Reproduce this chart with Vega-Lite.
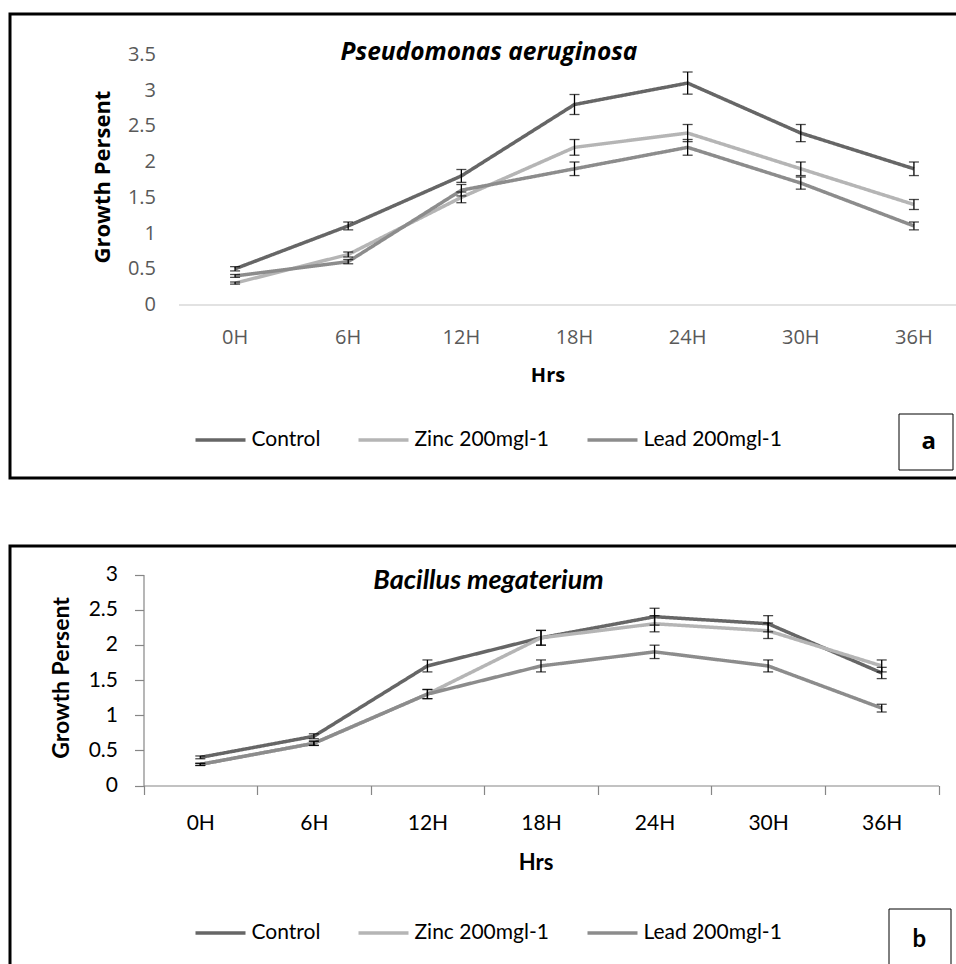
{
  "$schema": "https://vega.github.io/schema/vega-lite/v6.json",
  "background": "white",
  "padding": {"left": 8, "top": 12, "right": 0, "bottom": 0},
  "spacing": 64,
  "config": {"view": {"stroke": "black", "strokeWidth": 3}},
  "datasets": {
    "pa": [
      {"series": "Control", "hrs": "0H", "v": 0.5, "err": 0.03, "panel": "a"},
      {"series": "Control", "hrs": "6H", "v": 1.1, "err": 0.055, "panel": "a"},
      {"series": "Control", "hrs": "12H", "v": 1.8, "err": 0.09, "panel": "a"},
      {"series": "Control", "hrs": "18H", "v": 2.8, "err": 0.14, "panel": "a"},
      {"series": "Control", "hrs": "24H", "v": 3.1, "err": 0.155, "panel": "a"},
      {"series": "Control", "hrs": "30H", "v": 2.4, "err": 0.12, "panel": "a"},
      {"series": "Control", "hrs": "36H", "v": 1.9, "err": 0.095, "panel": "a"},
      {"series": "Zinc 200mgl-1", "hrs": "0H", "v": 0.3, "err": 0.015, "panel": "a"},
      {"series": "Zinc 200mgl-1", "hrs": "6H", "v": 0.7, "err": 0.035, "panel": "a"},
      {"series": "Zinc 200mgl-1", "hrs": "12H", "v": 1.5, "err": 0.075, "panel": "a"},
      {"series": "Zinc 200mgl-1", "hrs": "18H", "v": 2.2, "err": 0.11, "panel": "a"},
      {"series": "Zinc 200mgl-1", "hrs": "24H", "v": 2.4, "err": 0.12, "panel": "a"},
      {"series": "Zinc 200mgl-1", "hrs": "30H", "v": 1.9, "err": 0.095, "panel": "a"},
      {"series": "Zinc 200mgl-1", "hrs": "36H", "v": 1.4, "err": 0.07, "panel": "a"},
      {"series": "Lead 200mgl-1", "hrs": "0H", "v": 0.4, "err": 0.02, "panel": "a"},
      {"series": "Lead 200mgl-1", "hrs": "6H", "v": 0.6, "err": 0.03, "panel": "a"},
      {"series": "Lead 200mgl-1", "hrs": "12H", "v": 1.6, "err": 0.08, "panel": "a"},
      {"series": "Lead 200mgl-1", "hrs": "18H", "v": 1.9, "err": 0.095, "panel": "a"},
      {"series": "Lead 200mgl-1", "hrs": "24H", "v": 2.2, "err": 0.11, "panel": "a"},
      {"series": "Lead 200mgl-1", "hrs": "30H", "v": 1.7, "err": 0.085, "panel": "a"},
      {"series": "Lead 200mgl-1", "hrs": "36H", "v": 1.1, "err": 0.055, "panel": "a"}
    ],
    "pb": [
      {"series": "Control", "hrs": "0H", "v": 0.4, "err": 0.02, "panel": "b"},
      {"series": "Control", "hrs": "6H", "v": 0.7, "err": 0.035, "panel": "b"},
      {"series": "Control", "hrs": "12H", "v": 1.7, "err": 0.085, "panel": "b"},
      {"series": "Control", "hrs": "18H", "v": 2.1, "err": 0.105, "panel": "b"},
      {"series": "Control", "hrs": "24H", "v": 2.4, "err": 0.12, "panel": "b"},
      {"series": "Control", "hrs": "30H", "v": 2.3, "err": 0.115, "panel": "b"},
      {"series": "Control", "hrs": "36H", "v": 1.6, "err": 0.08, "panel": "b"},
      {"series": "Zinc 200mgl-1", "hrs": "0H", "v": 0.3, "err": 0.015, "panel": "b"},
      {"series": "Zinc 200mgl-1", "hrs": "6H", "v": 0.6, "err": 0.03, "panel": "b"},
      {"series": "Zinc 200mgl-1", "hrs": "12H", "v": 1.3, "err": 0.065, "panel": "b"},
      {"series": "Zinc 200mgl-1", "hrs": "18H", "v": 2.1, "err": 0.105, "panel": "b"},
      {"series": "Zinc 200mgl-1", "hrs": "24H", "v": 2.3, "err": 0.115, "panel": "b"},
      {"series": "Zinc 200mgl-1", "hrs": "30H", "v": 2.2, "err": 0.11, "panel": "b"},
      {"series": "Zinc 200mgl-1", "hrs": "36H", "v": 1.7, "err": 0.085, "panel": "b"},
      {"series": "Lead 200mgl-1", "hrs": "0H", "v": 0.3, "err": 0.015, "panel": "b"},
      {"series": "Lead 200mgl-1", "hrs": "6H", "v": 0.6, "err": 0.03, "panel": "b"},
      {"series": "Lead 200mgl-1", "hrs": "12H", "v": 1.3, "err": 0.065, "panel": "b"},
      {"series": "Lead 200mgl-1", "hrs": "18H", "v": 1.7, "err": 0.085, "panel": "b"},
      {"series": "Lead 200mgl-1", "hrs": "24H", "v": 1.9, "err": 0.095, "panel": "b"},
      {"series": "Lead 200mgl-1", "hrs": "30H", "v": 1.7, "err": 0.085, "panel": "b"},
      {"series": "Lead 200mgl-1", "hrs": "36H", "v": 1.1, "err": 0.055, "panel": "b"}
    ]
  },
  "resolve": {
    "scale": {"x": "independent", "y": "independent", "color": "independent", "strokeDash": "independent"},
    "legend": {"color": "independent", "strokeDash": "independent"}
  },
  "vconcat": [
    {
      "width": 952,
      "height": 464,
      "data": {"name": "pa"},
      "title": {"text": "Pseudomonas aeruginosa", "font": "Open Sans", "fontStyle": "italic", "fontWeight": "bold", "fontSize": 24.5, "color": "black", "frame": "group", "anchor": "middle", "baseline": "top", "offset": -51, "dx": 3},
      "layer": [
        {
          "mark": {"type": "line", "strokeWidth": 3.5},
          "encoding": {
            "x": {"field": "hrs", "type": "nominal", "title": "Hrs",
              "scale": {"type": "band", "domain": ["0H", "6H", "12H", "18H", "24H", "30H", "36H"], "range": [168.5, 960.5], "paddingInner": 0, "paddingOuter": 0},
              "axis": {"orient": "bottom", "offset": -173.5, "domainColor": "#d9d9d9", "domainWidth": 1.5, "ticks": false, "tickSize": 0, "grid": false, "labelPadding": 22.5, "labelFont": "Open Sans", "labelFontSize": 20, "labelColor": "#595959", "labelAngle": 0, "titleFont": "Open Sans", "titleFontSize": 20, "titleFontWeight": "bold", "titleColor": "black", "titleX": 537.5, "titleY": 71, "titleBaseline": "middle", "titleAlign": "center"}},
            "y": {"field": "v", "type": "quantitative", "title": "Growth Persent",
              "scale": {"domain": [0, 3.5], "range": [290.5, 40.5], "nice": false, "zero": true},
              "axis": {"orient": "left", "offset": -168.5, "domain": false, "ticks": false, "tickSize": 0, "grid": false, "values": [0, 0.5, 1, 1.5, 2, 2.5, 3, 3.5], "format": "~g", "labelPadding": 23, "labelFont": "Open Sans", "labelFontSize": 20, "labelColor": "#595959", "titleFont": "Open Sans", "titleFontSize": 22, "titleFontWeight": "bold", "titleColor": "black", "titleX": -76, "titleY": 162.5, "titleBaseline": "middle", "titleAlign": "center", "titleAngle": -90}},
            "color": {"field": "series", "type": "nominal",
              "scale": {"domain": ["Control", "Zinc 200mgl-1", "Lead 200mgl-1"], "range": ["#666666", "#b5b5b5", "#8c8c8c"]},
              "legend": {"title": null, "orient": "none", "legendX": 183.5, "legendY": 399, "direction": "horizontal", "symbolType": "stroke", "symbolSize": 2500, "symbolStrokeWidth": 3.5, "labelFont": "Lato", "labelFontSize": 21, "labelColor": "black", "labelOffset": 4, "columnPadding": 31, "padding": 0}},
            "strokeDash": {"field": "panel", "type": "nominal",
              "scale": {"range": [[1, 0]]},
              "legend": {"title": null, "orient": "none", "legendX": 888.5, "legendY": 399.5, "symbolType": "stroke", "symbolSize": 400, "symbolOpacity": 0, "symbolStrokeWidth": 0, "labelOffset": -17, "labelFont": "Open Sans", "labelFontWeight": "bold", "labelFontSize": 24, "labelColor": "black", "padding": 16, "strokeColor": "black"}}
          }
        },
        {
          "mark": {"type": "errorbar", "ticks": {"size": 10, "thickness": 1.3, "color": "black"}, "rule": {"strokeWidth": 1.3, "color": "black"}},
          "encoding": {
            "x": {"field": "hrs", "type": "nominal", "title": "Hrs",
              "scale": {"type": "band", "domain": ["0H", "6H", "12H", "18H", "24H", "30H", "36H"], "range": [168.5, 960.5], "paddingInner": 0, "paddingOuter": 0}},
            "y": {"field": "v", "type": "quantitative", "title": "Growth Persent",
              "scale": {"domain": [0, 3.5], "range": [290.5, 40.5], "nice": false, "zero": true}},
            "yError": {"field": "err"}
          }
        }
      ]
    },
    {
      "width": 952,
      "height": 425,
      "data": {"name": "pb"},
      "title": {"text": "Bacillus megaterium", "font": "Lato", "fontStyle": "italic", "fontWeight": "bold", "fontSize": 27, "color": "black", "frame": "group", "anchor": "middle", "baseline": "top", "offset": -49, "dx": 2.5},
      "layer": [
        {
          "mark": {"type": "line", "strokeWidth": 3.5},
          "encoding": {
            "x": {"field": "hrs", "type": "nominal", "title": "Hrs",
              "scale": {"type": "band", "domain": ["0H", "6H", "12H", "18H", "24H", "30H", "36H"], "range": [133.5, 928.5], "paddingInner": 0, "paddingOuter": 0},
              "axis": {"orient": "bottom", "offset": -185.5, "tickBand": "extent", "domainColor": "#868686", "domainWidth": 1.2, "tickColor": "#868686", "tickWidth": 1.2, "tickSize": 9, "grid": false, "labelPadding": 17.5, "labelFont": "Lato", "labelFontSize": 21, "labelColor": "black", "labelAngle": 0, "titleFont": "Lato", "titleFontSize": 22, "titleFontWeight": "bold", "titleColor": "black", "titleX": 525.5, "titleY": 77, "titleBaseline": "middle", "titleAlign": "center"}},
            "y": {"field": "v", "type": "quantitative", "title": "Growth Persent",
              "scale": {"domain": [0, 3], "range": [239.5, 28.5], "nice": false, "zero": true},
              "axis": {"orient": "left", "offset": -133.5, "domainColor": "#868686", "domainWidth": 1.2, "tickColor": "#868686", "tickWidth": 1.2, "tickSize": 9, "grid": false, "values": [0, 0.5, 1, 1.5, 2, 2.5, 3], "format": "~g", "labelPadding": 17, "labelFont": "Lato", "labelFontSize": 21, "labelColor": "black", "titleFont": "Lato", "titleFontSize": 23, "titleFontWeight": "bold", "titleColor": "black", "titleX": -82, "titleY": 131.5, "titleBaseline": "middle", "titleAlign": "center", "titleAngle": -90}},
            "color": {"field": "series", "type": "nominal",
              "scale": {"domain": ["Control", "Zinc 200mgl-1", "Lead 200mgl-1"], "range": ["#666666", "#b5b5b5", "#8c8c8c"]},
              "legend": {"title": null, "orient": "none", "legendX": 183.5, "legendY": 360, "direction": "horizontal", "symbolType": "stroke", "symbolSize": 2500, "symbolStrokeWidth": 3.5, "labelFont": "Lato", "labelFontSize": 21, "labelColor": "black", "labelOffset": 4, "columnPadding": 31, "padding": 0}},
            "strokeDash": {"field": "panel", "type": "nominal",
              "scale": {"range": [[1, 0]]},
              "legend": {"title": null, "orient": "none", "legendX": 878.5, "legendY": 362.5, "symbolType": "stroke", "symbolSize": 1156, "symbolOpacity": 0, "symbolStrokeWidth": 0, "labelOffset": -24, "labelFont": "Lato", "labelFontWeight": "bold", "labelFontSize": 24, "labelColor": "black", "padding": 14, "strokeColor": "black"}}
          }
        },
        {
          "mark": {"type": "errorbar", "ticks": {"size": 10, "thickness": 1.3, "color": "black"}, "rule": {"strokeWidth": 1.3, "color": "black"}},
          "encoding": {
            "x": {"field": "hrs", "type": "nominal", "title": "Hrs",
              "scale": {"type": "band", "domain": ["0H", "6H", "12H", "18H", "24H", "30H", "36H"], "range": [133.5, 928.5], "paddingInner": 0, "paddingOuter": 0}},
            "y": {"field": "v", "type": "quantitative", "title": "Growth Persent",
              "scale": {"domain": [0, 3], "range": [239.5, 28.5], "nice": false, "zero": true}},
            "yError": {"field": "err"}
          }
        }
      ]
    }
  ]
}
